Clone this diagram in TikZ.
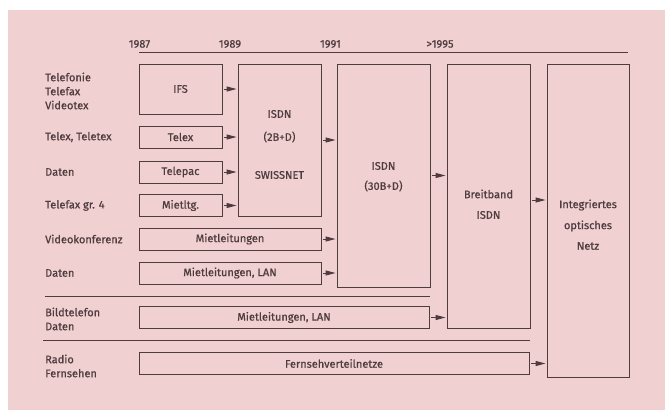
\documentclass[tikz,border=0pt]{standalone}
\usepackage{fontspec}
\setmainfont{Fira Sans}[FakeBold=0.7]
\usepackage{tikz}
\usetikzlibrary{arrows.meta,positioning}
\definecolor{paper}{RGB}{240,208,208}
\definecolor{ink}{RGB}{78,60,62}

\begin{document}
\begin{tikzpicture}[
    x=1pt, y=-1pt,
    box/.style={draw=ink, line width=0.9pt, rectangle, minimum height=22pt, align=center, inner sep=0pt, font=\fontsize{11}{14}\selectfont, text=ink},
    txt/.style={font=\fontsize{11}{14}\selectfont, text=ink, inner sep=0pt, align=center},
    side/.style={txt, anchor=west, align=left},
    year/.style={txt},
    arrow/.style={-{Triangle[length=10pt,width=5pt]}, draw=ink, line width=0.9pt, shorten <=2pt, shorten >=1pt},
    rule/.style={draw=ink, line width=0.9pt}
]

\useasboundingbox (0,0) rectangle (665,410);
\fill[paper] (8,10) rectangle (665,410);

% years
\node[year] (y87) at (139.5,44) {1987};
\node[year] (y89) at (230,44) {1989};
\node[year] (y91) at (330.5,44) {1991};
\node[year] (y95) at (440,44) {>1995};
\coordinate (topL) at (139,52);
\coordinate (topR) at (628,52);
\draw[rule] (topL) -- (topR);

% services
\node[side] (s1) at (45,91) {Telefonie\\Telefax\\Videotex};
\node[side] (s2) at (45,137) {Telex, Teletex};
\node[side] (s3) at (45,172) {Daten};
\node[side] (s4) at (45,205.5) {Telefax gr. 4};
\node[side] (s5) at (45,239) {Videokonferenz};
\node[side] (s6) at (45,273) {Daten};
\node[side] (s7) at (45,319) {Bildtelefon\\Daten};
\node[side] (s8) at (45,366) {Radio\\Fernsehen};

% first column
\node[box, minimum width=83pt, minimum height=50pt] (ifs) at (180.5,89) {IFS};
\node[box, minimum width=83pt] (telex) at (180.5,137) {Telex};
\node[box, minimum width=83pt] (telepac) at (180.5,172) {Telepac};
\node[box, minimum width=83pt] (mietltg) at (180.5,205.5) {Mietltg.};
\node[box, minimum width=182pt] (miet) at (230,239) {Mietleitungen};
\node[box, minimum width=182pt] (mietlan) at (230,273) {Mietleitungen, LAN};
\node[box, minimum width=290pt] (bild) at (284,317.5) {Mietleitungen, LAN};
\node[box, minimum width=390pt] (fern) at (334,363.5) {Fernsehverteilnetze};

% networks
\node[box, minimum width=83pt, minimum height=152pt] (isdnA) at (279.5,140) {};
\node[txt] at (279.5,114) {ISDN};
\node[txt] at (279.5,137) {(2B+D)};
\node[txt] at (279.5,175) {SWISSNET};

\node[box, minimum width=93pt, minimum height=223pt] (isdnB) at (383.5,175.5) {};
\node[txt] at (383.5,166) {ISDN};
\node[txt] at (383.5,186) {(30B+D)};

\node[box, minimum width=83pt, minimum height=264pt] (breit) at (488.5,196) {};
\node[txt] at (488.5,194) {Breitband};
\node[txt] at (488.5,215) {ISDN};

\node[box, minimum width=82pt, minimum height=313pt] (ion) at (588,220.5) {};
\node[txt] at (588,205) {Integriertes};
\node[txt] at (588,226) {optisches};
\node[txt] at (588,246) {Netz};

% separators
\coordinate (sepA) at (45,296);
\coordinate (sepB) at (43,340);
\draw[rule] (sepA) -- (sepA -| isdnB.east);
\draw[rule] (sepB) -- (sepB -| breit.east);

% arrows
\draw[arrow] (ifs.east) -- (ifs.east -| isdnA.west);
\draw[arrow] (telex.east) -- (telex.east -| isdnA.west);
\draw[arrow] (telepac.east) -- (telepac.east -| isdnA.west);
\draw[arrow] (mietltg.east) -- (mietltg.east -| isdnA.west);
\draw[arrow] (miet.east) -- (miet.east -| isdnB.west);
\draw[arrow] (mietlan.east) -- (mietlan.east -| isdnB.west);
\draw[arrow] (isdnA.east) -- (isdnA.east -| isdnB.west);
\draw[arrow] (isdnB.east) -- (isdnB.east -| breit.west);
\draw[arrow] ([yshift=-4pt]breit.east) -- ([yshift=-4pt]breit.east -| ion.west);
\draw[arrow] (bild.east) -- (bild.east -| breit.west);
\draw[arrow] (fern.east) -- (fern.east -| ion.west);

\end{tikzpicture}
\end{document}
